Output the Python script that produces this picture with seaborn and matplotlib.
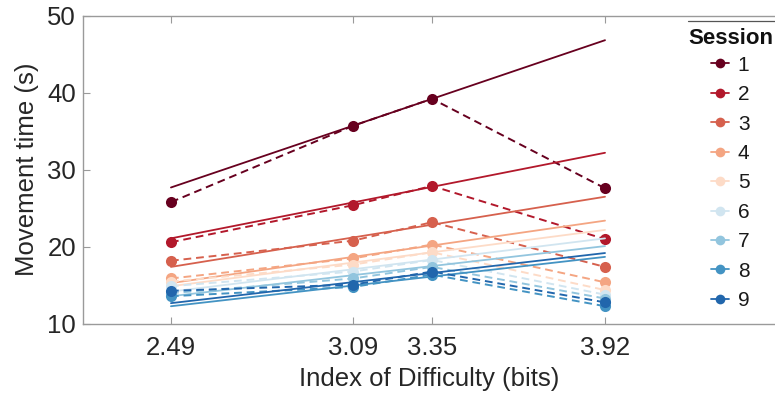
import numpy as np
import pandas as pd
import matplotlib
matplotlib.use("Agg")
import matplotlib.pyplot as plt
from matplotlib.lines import Line2D
import seaborn as sns

# Index of difficulty levels (bits)
id_bits = [2.49, 3.09, 3.35, 3.92]
sessions = ["1", "2", "3", "4", "5", "6", "7", "8", "9"]

# mean movement time (s) per session at each ID
mt_s1 = [25.8, 35.7, 39.2, 27.6]
mt_s2 = [20.6, 25.4, 27.9, 21.0]
mt_s3 = [18.2, 20.8, 23.2, 17.4]
mt_s4 = [15.9, 18.5, 20.3, 15.4]
mt_s5 = [15.5, 17.7, 19.3, 14.4]
mt_s6 = [14.9, 16.8, 18.3, 13.8]
mt_s7 = [14.0, 15.9, 17.4, 13.3]
mt_s8 = [13.6, 14.8, 16.4, 12.3]
mt_s9 = [14.3, 15.1, 16.8, 12.8]

# fitted line values at the first and last ID
fit_low = [27.7, 21.1, 17.4, 15.3, 14.9, 14.2, 13.6, 12.3, 12.7]
fit_high = [46.8, 32.2, 26.5, 23.4, 22.2, 21.1, 20.1, 18.7, 19.2]

palette = ["#67001f", "#b2182b", "#d6604d", "#f4a582", "#fddbc7",
           "#d1e5f0", "#92c5de", "#4393c3", "#2166ac"]

all_mt = [mt_s1, mt_s2, mt_s3, mt_s4, mt_s5, mt_s6, mt_s7, mt_s8, mt_s9]
obs = pd.DataFrame({
    "session": np.repeat(sessions, len(id_bits)),
    "id": id_bits * len(sessions),
    "mt": np.concatenate(all_mt),
})
fit = pd.DataFrame({
    "session": np.repeat(sessions, 2),
    "id": [id_bits[0], id_bits[-1]] * len(sessions),
    "mt": np.ravel(np.column_stack([fit_low, fit_high])),
})

sns.set_theme(style="white")
plt.rcParams["font.family"] = ["Liberation Sans", "DejaVu Sans"]

fig = plt.figure(figsize=(7.75, 3.98), dpi=100)
ax = fig.add_axes([0.107, 0.186, 0.893, 0.775])

for i, s in enumerate(sessions):
    sub_fit = fit[fit.session == s]
    sub_obs = obs[obs.session == s]
    sns.lineplot(data=sub_fit, x="id", y="mt", color=palette[i],
                 linewidth=1.3, ax=ax, legend=False)
    sns.lineplot(data=sub_obs, x="id", y="mt", color=palette[i],
                 linestyle=(0, (4, 2.5)), linewidth=1.4, marker="o",
                 markersize=8, markeredgewidth=0, ax=ax, legend=False)

ax.set_xlim(2.2, 4.48)
ax.set_ylim(10, 50)
ax.set_xticks(id_bits)
ax.set_xticklabels([f"{v:.2f}" for v in id_bits])
ax.set_yticks([10, 20, 30, 40, 50])
ax.tick_params(axis="both", direction="in", length=5, width=0.8,
               colors="#9a9a9a", labelcolor="#262626", labelsize=18.5,
               top=True, bottom=True, left=True)
ax.tick_params(axis="x", pad=9)
ax.tick_params(axis="y", pad=5)
for side in ["left", "bottom", "top"]:
    ax.spines[side].set_color("#9a9a9a")
    ax.spines[side].set_linewidth(1.0)
ax.spines["right"].set_visible(False)

ax.set_xlabel("Index of Difficulty (bits)", fontsize=18.5, color="#262626", labelpad=5)
ax.set_ylabel("Movement time (s)", fontsize=18.5, color="#262626", labelpad=6)

handles = [Line2D([0], [0], color=c, marker="o", markersize=7,
                  markeredgewidth=0, linewidth=1.3) for c in palette]
leg = fig.legend(handles, sessions, loc="upper left",
                 bbox_to_anchor=(0.917, 0.860), frameon=False,
                 fontsize=15, handlelength=0.9, handletextpad=0.4,
                 labelspacing=0.5, borderpad=0, borderaxespad=0,
                 numpoints=1)
for t in leg.get_texts():
    t.set_color("#1a1a1a")

fig.text(0.888, 1 - 38 / 398, "Session", fontsize=16, fontweight="bold",
         va="center", ha="left", color="#111111")
fig.add_artist(Line2D([0.888, 1.0], [0.946, 0.946], color="#555555",
                      linewidth=0.9, transform=fig.transFigure))

fig.savefig("out.png", dpi=100)
